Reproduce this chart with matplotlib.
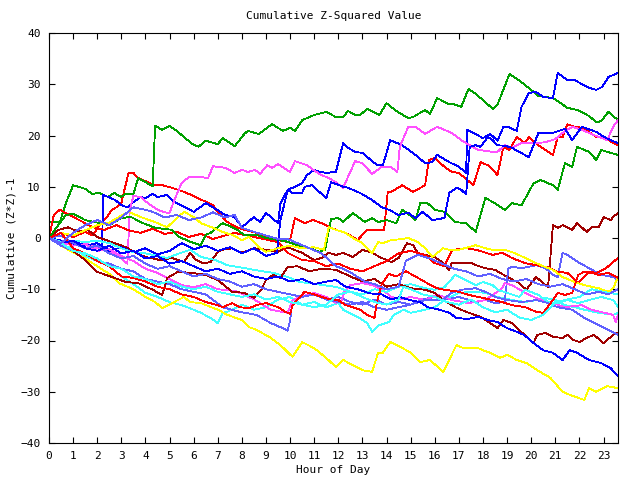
import matplotlib
matplotlib.use('Agg')
import matplotlib.pyplot as plt

plt.rcParams['font.family'] = 'DejaVu Sans Mono'

# (hour, cumulative (z*z)-1) pairs, one list per trace
green_a = [(0, 3.1), (0.45, 3.1), (0.7, 6.8), (1.0, 10.3), (1.5, 9.6), (1.8, 8.6), (2.1, 8.8), (2.45, 8.0),
           (2.7, 8.8), (3.0, 8.0), (3.15, 8.6), (3.5, 8.6), (3.7, 11.7), (4.3, 10.1), (4.4, 21.9), (4.7, 21.1),
           (5.0, 21.9), (5.35, 20.7), (5.9, 18.5), (6.2, 17.8), (6.5, 19.0), (7.0, 18.3), (7.2, 19.5), (7.7, 17.9),
           (8.1, 20.3), (8.25, 20.9), (8.7, 20.3), (9.25, 22.2), (9.7, 20.9), (10.0, 21.5), (10.2, 20.9),
           (10.5, 23.0), (11.0, 24.0), (11.5, 24.6), (11.9, 23.6), (12.2, 23.6), (12.4, 24.8), (12.7, 24.0),
           (12.9, 24.0), (13.2, 25.2), (13.7, 24.0), (14.0, 26.3), (14.4, 24.8), (14.9, 23.4), (15.1, 23.6),
           (15.6, 25.0), (15.8, 24.2), (16.1, 27.3), (16.6, 26.1), (16.8, 26.1), (17.1, 25.6), (17.4, 29.1),
           (17.7, 28.1), (18.1, 26.5), (18.4, 25.2), (18.6, 26.0), (19.1, 32.0), (19.6, 30.4), (20.0, 28.9),
           (20.3, 27.7), (20.9, 27.3), (21.1, 26.7), (21.5, 25.4), (21.9, 25.0), (22.4, 23.8), (22.7, 22.6),
           (22.9, 22.8), (23.2, 24.6), (23.6, 23.0)]
green_b = [(0, 0), (0.3, 2.0), (0.7, 4.5), (1.0, 4.7), (1.5, 3.5), (2.0, 3.0), (2.5, 2.5), (3.0, 3.9),
           (3.4, 4.1), (3.9, 2.9), (4.4, 2.0), (5.1, 1.6), (5.4, 0.2), (5.9, -0.8), (6.3, -1.4), (6.5, 0.6),
           (6.7, 1.0), (7.2, 2.9), (7.6, 2.1), (7.8, 1.6), (8.1, 0.6), (8.6, 0.6), (9.0, 0.0), (9.5, -0.4),
           (9.8, -0.6), (10.3, -1.4), (10.7, -1.8), (11.0, -2.3), (11.2, -2.7), (11.45, -2.3), (11.7, 3.7),
           (12.0, 3.9), (12.2, 3.1), (12.6, 4.9), (13.1, 3.1), (13.4, 3.9), (13.65, 3.1), (14.0, 3.5),
           (14.4, 2.9), (14.65, 5.5), (14.85, 4.9), (15.2, 3.5), (15.4, 6.8), (15.7, 6.8), (16.0, 5.5),
           (16.4, 5.1), (16.85, 3.1), (17.3, 2.9), (17.7, 1.2), (18.1, 7.8), (18.5, 6.8), (18.9, 5.5),
           (19.2, 6.8), (19.6, 6.4), (20.1, 10.7), (20.4, 11.3), (20.9, 10.3), (21.1, 9.4), (21.4, 14.6),
           (21.7, 13.9), (21.9, 17.8), (22.4, 16.8), (22.7, 15.2), (22.9, 17.2), (23.15, 16.8), (23.6, 16.2)]

magenta_a = [(0, 0), (0.5, -0.8), (1.0, -1.5), (1.5, -1.0), (2.0, -2.0), (2.5, -2.5), (3.0, -4.0), (3.25, -5.0),
             (3.35, 5.5), (3.5, 8.2), (3.8, 8.0), (4.1, 6.8), (4.5, 5.5), (4.9, 4.9), (5.0, 4.9), (5.2, 7.4),
             (5.5, 10.7), (5.8, 11.9), (6.3, 11.9), (6.6, 11.7), (6.8, 14.0), (7.3, 13.7), (7.7, 12.7),
             (8.0, 13.3), (8.25, 12.9), (8.55, 13.3), (8.75, 12.5), (9.05, 14.2), (9.25, 13.7), (9.5, 14.4),
             (10.0, 12.9), (10.2, 15.0), (10.7, 14.2), (11.2, 12.5), (11.6, 11.7), (11.9, 10.9), (12.2, 9.8),
             (12.4, 11.9), (12.7, 15.0), (13.0, 14.6), (13.4, 12.5), (13.8, 13.9), (14.15, 13.9), (14.45, 12.9),
             (14.55, 17.8), (14.9, 21.7), (15.2, 21.7), (15.6, 20.3), (16.1, 21.7), (16.7, 20.5), (17.1, 19.1),
             (17.55, 17.8), (17.8, 17.2), (18.4, 16.8), (18.6, 16.8), (18.9, 18.1), (19.2, 17.6), (19.6, 18.5),
             (20.2, 18.5), (20.6, 18.7), (21.0, 19.3), (21.3, 20.5), (21.7, 21.7), (22.1, 21.1), (22.7, 19.9),
             (23.15, 19.1), (23.4, 21.7), (23.6, 23.0)]
magenta_b = [(0, 0), (0.5, -0.8), (1.0, -1.5), (1.5, -1.2), (2.0, -2.5), (2.5, -2.2), (3.0, -3.5), (3.5, -4.5),
             (4.0, -6.0), (4.5, -6.8), (5.0, -8.0), (5.5, -9.2), (6.0, -9.6), (6.5, -9.0), (7.0, -10.0),
             (7.7, -10.3), (8.1, -11.1), (8.55, -12.1), (9.2, -14.0), (9.9, -14.6), (10.1, -12.1), (10.7, -11.1),
             (11.0, -10.7), (11.5, -11.5), (11.9, -12.7), (12.15, -12.1), (12.25, -10.5), (12.5, -9.2),
             (13.0, -8.8), (13.4, -9.2), (13.8, -10.0), (14.2, -11.5), (14.6, -12.0), (15.0, -11.5), (15.6, -12.1),
             (16.1, -11.1), (16.4, -11.5), (16.7, -12.1), (17.4, -12.7), (18.1, -12.1), (18.8, -9.8), (18.9, -8.8),
             (19.2, -9.2), (19.75, -10.7), (20.2, -11.7), (20.9, -12.7), (21.4, -13.5), (22.1, -13.1),
             (22.5, -14.0), (23.4, -15.0), (23.5, -16.4), (23.6, -15.0)]

blue_a = [(0, 0), (0.5, -0.5), (1.0, -1.2), (1.5, -1.0), (2.0, -2.0), (2.2, -1.8), (2.25, 8.4), (2.45, 8.0),
          (2.75, 7.4), (3.0, 6.4), (3.25, 6.0), (3.5, 7.0), (3.8, 8.0), (4.0, 7.8), (4.3, 8.6), (4.5, 8.0),
          (4.9, 8.4), (5.1, 7.4), (5.3, 6.8), (5.65, 6.0), (6.0, 5.1), (6.5, 6.8), (6.8, 6.0), (7.3, 4.5),
          (7.7, 4.1), (8.0, 2.1), (8.5, 4.1), (8.75, 3.1), (9.0, 4.9), (9.5, 2.9), (9.6, 6.8), (9.9, 9.4),
          (10.2, 10.0), (10.5, 10.7), (10.7, 12.3), (11.0, 13.3), (11.25, 12.9), (11.5, 12.7), (11.9, 12.9),
          (12.2, 18.5), (12.4, 17.6), (12.7, 16.8), (13.0, 16.6), (13.45, 14.8), (13.65, 14.2), (13.85, 14.2),
          (14.15, 19.1), (14.65, 18.1), (15.2, 16.2), (15.6, 14.6), (15.9, 14.8), (16.1, 16.2), (16.6, 14.8),
          (17.0, 13.9), (17.3, 12.7), (17.35, 21.1), (17.6, 20.5), (18.0, 19.5), (18.3, 20.3), (18.6, 19.0),
          (18.85, 21.7), (19.05, 21.7), (19.4, 20.9), (19.6, 25.6), (19.9, 28.3), (20.2, 28.5), (20.5, 27.5),
          (20.9, 27.3), (21.1, 32.2), (21.5, 30.8), (21.8, 30.8), (22.4, 29.3), (22.7, 28.9), (22.95, 29.5),
          (23.2, 31.4), (23.6, 32.2)]
blue_b = [(0, 0), (0.5, -1.0), (1.0, -0.5), (1.5, -1.5), (2.0, -1.0), (2.5, -2.5), (3.0, -1.8), (3.5, -2.8),
          (4.0, -2.0), (4.5, -3.2), (5.0, -2.5), (5.5, -1.0), (6.0, -2.2), (6.5, -1.5), (7.0, -2.5), (7.5, -1.8),
          (8.0, -3.0), (8.5, -2.0), (9.0, -3.5), (9.45, -2.9), (9.6, 3.5), (9.9, 9.4), (10.1, 8.8), (10.5, 8.8),
          (10.6, 10.0), (10.9, 10.3), (11.5, 7.8), (11.7, 10.9), (12.2, 10.0), (12.4, 9.8), (12.9, 8.8),
          (13.4, 7.4), (13.8, 6.0), (14.1, 5.5), (14.5, 4.5), (14.9, 4.9), (15.2, 3.9), (15.5, 5.1), (15.9, 3.5),
          (16.4, 3.9), (16.6, 8.8), (16.9, 9.8), (17.1, 9.4), (17.3, 8.5), (17.45, 17.8), (17.7, 18.1),
          (17.9, 17.8), (18.2, 19.7), (18.4, 19.1), (18.6, 18.1), (18.9, 18.0), (19.2, 17.6), (19.5, 16.8),
          (19.9, 15.8), (20.3, 20.5), (20.9, 20.5), (21.4, 21.3), (21.7, 19.1), (22.1, 21.7), (22.7, 20.7),
          (23.1, 19.5), (23.6, 18.5)]
blue_c = [(0, 0), (0.5, -1.0), (1.0, -0.5), (1.5, -2.0), (2.0, -2.5), (2.5, -1.5), (3.0, -3.0), (3.5, -2.5),
          (4.0, -4.0), (4.5, -3.5), (5.0, -5.0), (5.5, -4.5), (6.0, -5.5), (6.5, -6.5), (7.0, -6.0), (7.5, -7.0),
          (8.0, -6.5), (8.5, -7.5), (9.0, -8.0), (9.5, -7.5), (10.0, -8.5), (10.5, -8.0), (11.0, -9.0),
          (11.5, -8.5), (11.9, -8.2), (12.3, -9.5), (12.8, -10.0), (13.3, -10.8), (13.8, -11.0), (14.2, -12.0),
          (14.55, -11.5), (14.95, -12.1), (15.4, -12.5), (15.7, -13.5), (16.2, -14.0), (16.6, -14.6),
          (16.9, -15.6), (17.35, -15.8), (17.8, -15.4), (18.2, -16.0), (18.6, -16.4), (19.0, -17.6),
          (19.4, -18.3), (19.7, -18.9), (20.1, -20.5), (20.5, -21.9), (20.9, -22.4), (21.3, -23.8),
          (21.6, -21.9), (21.9, -22.4), (22.4, -23.8), (22.9, -24.4), (23.3, -25.4), (23.6, -27.0)]

red_a = [(0, 0), (0.5, 1.0), (1.0, 0.2), (1.5, 1.2), (1.8, 0.5), (2.1, 2.5), (2.4, 4.1), (2.6, 5.5), (2.8, 6.0),
         (3.0, 6.8), (3.15, 9.8), (3.3, 12.7), (3.5, 12.7), (3.7, 11.7), (4.1, 10.9), (4.4, 10.3), (4.7, 10.3),
         (5.1, 9.8), (5.35, 9.4), (5.6, 9.0), (5.9, 8.4), (6.35, 7.4), (6.8, 6.4), (7.0, 5.1), (7.4, 3.1),
         (7.8, 2.1), (8.1, 1.6), (8.6, 1.0), (8.9, 0.6), (9.2, 0.2), (9.5, -0.4), (9.9, -0.8), (10.0, -0.4),
         (10.2, 3.9), (10.6, 2.9), (10.95, 3.5), (11.3, 2.9), (11.9, 1.6), (12.3, 1.0), (12.6, 0.2),
         (12.8, -0.4), (13.2, 1.6), (13.9, 1.6), (14.05, 9.0), (14.2, 9.0), (14.65, 10.3), (15.1, 9.0),
         (15.6, 10.3), (15.75, 15.2), (16.0, 15.6), (16.4, 13.9), (16.7, 12.9), (17.0, 12.7), (17.35, 11.3),
         (17.6, 10.3), (17.9, 14.8), (18.2, 14.2), (18.4, 13.3), (18.6, 12.3), (18.85, 17.8), (19.1, 17.2),
         (19.4, 19.7), (19.75, 18.5), (19.9, 19.7), (20.3, 18.1), (20.9, 16.2), (21.1, 19.7), (21.3, 19.7),
         (21.5, 22.2), (21.8, 21.7), (22.1, 21.5), (22.4, 20.7), (22.7, 19.7), (23.1, 19.5), (23.4, 18.5),
         (23.6, 18.1)]
red_b = [(0, 0), (0.2, 4.5), (0.45, 5.5), (1.0, 4.1), (1.5, 2.9), (1.8, 2.1), (2.3, 1.6), (2.8, 2.5), (3.3, 1.5),
         (3.8, 1.0), (4.3, 1.8), (4.8, 0.8), (5.3, 1.2), (5.8, 0.2), (6.3, 0.8), (6.8, -0.2), (7.3, 0.5),
         (7.7, 1.0), (8.1, 0.6), (8.5, 0.2), (9.1, -0.4), (9.5, -0.8), (9.9, -2.9), (10.5, -4.3), (11.0, -4.5),
         (11.5, -5.5), (12.0, -5.0), (12.5, -6.0), (13.0, -6.5), (13.5, -5.5), (14.0, -4.5), (14.5, -3.0),
         (15.0, -2.5), (15.6, -3.3), (16.0, -4.9), (16.4, -5.5), (16.7, -2.5), (17.0, -2.1), (17.3, -2.0),
         (17.7, -2.3), (18.0, -2.7), (18.4, -3.3), (18.8, -2.9), (19.2, -3.9), (19.75, -4.9), (20.2, -5.3),
         (20.7, -5.7), (21.1, -6.6), (21.5, -6.8), (21.95, -8.8), (22.4, -6.6), (22.7, -6.8), (23.1, -5.9),
         (23.6, -3.9)]
red_c = [(0, 0), (0.5, 1.0), (1.0, -2.0), (1.5, -3.0), (2.0, -4.5), (2.5, -5.5), (3.0, -7.5), (3.5, -7.8),
         (4.0, -8.5), (4.5, -9.5), (5.0, -10.0), (5.5, -11.0), (6.0, -11.5), (6.5, -12.5), (7.0, -13.1),
         (7.2, -13.5), (7.6, -12.7), (7.9, -13.5), (8.3, -13.7), (8.6, -13.1), (9.0, -12.7), (9.5, -13.5),
         (9.8, -14.4), (10.0, -14.8), (10.1, -13.1), (10.3, -12.1), (10.6, -10.5), (11.0, -11.0), (11.5, -11.8),
         (12.0, -12.1), (12.3, -13.1), (12.6, -13.5), (12.9, -14.0), (13.2, -15.0), (13.5, -15.6),
         (13.6, -12.5), (13.8, -9.0), (14.1, -7.0), (14.4, -7.5), (14.8, -6.5), (15.2, -7.5), (15.6, -8.6),
         (16.1, -9.8), (16.4, -10.1), (17.0, -10.5), (17.4, -11.1), (17.8, -11.5), (18.4, -12.1), (18.8, -12.5),
         (19.2, -13.1), (19.75, -13.5), (20.2, -14.4), (20.5, -14.6), (20.6, -14.0), (20.9, -12.1),
         (21.1, -10.7), (21.4, -11.1), (21.7, -10.7), (21.95, -7.2), (22.2, -6.6), (22.5, -6.8), (22.8, -7.2),
         (23.2, -6.8), (23.6, -7.8)]

slate_a = [(0, 0), (0.5, -1.5), (1.0, -2.5), (1.5, -3.0), (2.0, -4.5), (2.5, -5.0), (3.0, -6.0), (3.5, -6.5),
           (4.0, -8.0), (4.5, -8.5), (5.0, -9.0), (5.5, -10.0), (6.0, -10.5), (6.5, -11.0), (7.2, -13.5),
           (7.9, -14.4), (8.6, -15.0), (9.2, -16.6), (9.6, -17.4), (9.9, -18.1), (10.0, -16.0), (10.1, -12.1),
           (10.5, -11.5), (11.0, -11.0), (11.5, -12.0), (12.0, -11.5), (12.5, -12.5), (13.0, -13.0),
           (13.5, -12.0), (14.0, -13.0), (14.5, -12.5), (15.0, -13.0), (15.5, -12.0), (16.0, -11.5),
           (16.5, -12.0), (17.0, -11.5), (17.7, -12.5), (18.1, -12.1), (18.5, -12.7), (18.9, -12.5),
           (19.05, -6.0), (19.2, -5.6), (19.6, -5.9), (20.2, -5.3), (20.6, -5.9), (20.9, -7.2), (21.1, -7.6),
           (21.3, -2.9), (21.5, -3.3), (21.95, -4.7), (22.4, -5.9), (22.9, -7.2), (23.4, -7.6), (23.6, -8.2)]
slate_b = [(0, 0), (0.5, 0.5), (1.0, -1.0), (1.5, -2.0), (2.0, -1.5), (2.5, -3.0), (3.0, -4.0), (3.5, -3.5),
           (4.0, -5.0), (4.5, -6.0), (5.0, -5.5), (5.5, -6.5), (6.0, -7.5), (6.5, -7.0), (7.0, -8.0), (7.5, -8.5),
           (8.0, -9.5), (8.5, -9.0), (9.0, -10.0), (9.5, -10.5), (10.0, -11.0), (10.5, -11.5), (11.0, -11.0),
           (11.5, -12.0), (12.0, -12.5), (12.5, -13.0), (13.0, -12.5), (13.5, -13.5), (14.0, -14.0),
           (14.5, -13.5), (15.0, -13.0), (15.6, -12.1), (16.3, -12.1), (16.7, -10.7), (17.1, -10.1),
           (17.7, -9.8), (18.2, -10.7), (18.5, -11.5), (19.0, -12.1), (19.6, -12.5), (20.2, -12.1),
           (20.7, -12.7), (21.1, -13.5), (21.7, -14.0), (22.2, -15.6), (22.8, -17.0), (23.2, -17.9),
           (23.6, -18.9)]
slate_c = [(0, 0), (0.5, -1.0), (1.0, 1.0), (1.5, 2.5), (2.0, 3.5), (2.5, 2.5), (3.0, 4.0), (3.5, 6.0),
           (4.0, 5.5), (4.3, 5.1), (4.8, 4.0), (5.3, 4.5), (5.8, 3.5), (6.3, 4.0), (6.8, 5.0), (7.3, 4.0),
           (7.7, 4.5), (8.0, 2.0), (8.5, 1.2), (9.0, 0.5), (9.5, -0.2), (9.9, -0.2), (10.3, -1.0), (10.8, -2.0),
           (11.3, -3.0), (11.9, -5.5), (12.2, -6.0), (12.6, -7.0), (13.1, -8.5), (13.5, -9.0), (14.0, -10.0),
           (14.5, -9.5), (14.8, -4.5), (15.3, -3.3), (15.8, -4.0), (16.3, -5.0), (16.8, -6.0), (17.3, -6.5),
           (17.8, -7.5), (18.3, -7.0), (18.8, -8.0), (19.3, -8.5), (19.8, -8.0), (20.3, -9.0), (20.8, -9.5),
           (21.3, -9.0), (21.8, -10.0), (22.3, -11.0), (22.8, -10.5), (23.2, -11.0), (23.6, -10.0)]

cyan_a = [(0, 0), (0.5, -1.5), (1.0, -2.0), (1.5, -3.5), (2.0, -4.5), (2.5, -5.5), (3.0, -7.5), (3.5, -9.0),
          (4.0, -10.7), (4.5, -11.5), (5.0, -12.5), (5.5, -13.1), (5.85, -13.7), (6.3, -14.6), (6.7, -15.6),
          (7.0, -16.6), (7.2, -14.6), (7.4, -14.4), (8.0, -13.0), (8.5, -14.0), (9.0, -13.5), (9.5, -12.0),
          (10.0, -11.5), (10.5, -13.0), (11.0, -12.5), (11.5, -13.5), (12.0, -12.7), (12.2, -14.0),
          (12.8, -15.4), (13.2, -16.6), (13.4, -18.3), (13.7, -17.0), (14.1, -16.4), (14.3, -15.0),
          (14.7, -14.0), (15.0, -14.6), (15.6, -14.0), (16.0, -13.5), (16.4, -12.1), (17.0, -10.7),
          (17.55, -10.5), (18.1, -10.7), (18.6, -11.5), (19.2, -12.1), (19.75, -12.5), (20.2, -12.1),
          (20.6, -11.7), (21.0, -12.1), (21.4, -13.1), (21.8, -13.5), (22.2, -14.0), (22.8, -14.6),
          (23.4, -15.0), (23.6, -14.6)]
cyan_b = [(0, 0), (0.5, -0.8), (1.0, -0.5), (1.5, -0.8), (2.0, -0.5), (2.5, -1.0), (3.0, -2.0), (3.5, -2.8),
          (4.0, -3.0), (4.5, -3.5), (4.9, -3.9), (5.4, -3.0), (5.85, -2.3), (6.3, -3.7), (6.9, -4.3),
          (7.4, -5.3), (7.9, -5.7), (8.5, -6.2), (9.0, -6.6), (9.3, -6.8), (9.9, -7.6), (10.4, -8.6),
          (10.8, -8.8), (11.4, -9.2), (11.95, -9.6), (12.5, -10.5), (13.0, -11.0), (13.5, -10.0), (14.0, -10.5),
          (14.5, -9.5), (15.0, -9.0), (15.6, -9.8), (16.0, -10.1), (16.4, -9.6), (16.85, -7.2), (17.1, -7.8),
          (17.7, -9.2), (18.0, -8.6), (18.4, -9.2), (18.6, -10.1), (19.0, -10.7), (19.5, -11.5), (19.75, -10.1),
          (20.3, -11.1), (20.7, -12.5), (21.1, -12.7), (21.5, -12.1), (21.95, -12.7), (22.4, -12.1),
          (22.9, -11.5), (23.4, -12.1), (23.6, -13.5)]
cyan_c = [(0, 0), (0.5, -1.0), (1.0, -2.5), (1.5, -3.0), (2.0, -4.0), (2.5, -5.5), (3.0, -6.0), (3.5, -7.5),
          (4.0, -8.0), (4.5, -9.0), (5.0, -8.5), (5.5, -9.5), (6.0, -10.0), (6.5, -9.5), (7.0, -10.5),
          (7.5, -11.0), (8.0, -11.5), (8.5, -11.0), (9.0, -12.0), (9.5, -11.5), (10.0, -12.5), (10.5, -13.0),
          (11.0, -13.5), (11.5, -13.0), (12.0, -11.0), (12.5, -10.5), (13.0, -11.5), (13.5, -12.5),
          (14.0, -13.0), (14.5, -12.0), (14.7, -9.5), (15.0, -10.0), (15.5, -11.0), (16.0, -11.5),
          (16.5, -12.5), (17.0, -13.0), (17.5, -12.0), (18.0, -13.5), (18.5, -14.5), (19.0, -14.0),
          (19.5, -15.5), (20.0, -16.0), (20.5, -15.0), (21.0, -12.5), (21.5, -12.0), (22.0, -11.5),
          (22.5, -10.0), (23.0, -10.5), (23.6, -11.0)]

yellow_a = [(0, 0), (0.5, -1.5), (1.0, -2.8), (1.5, -4.0), (2.0, -5.5), (2.5, -7.0), (2.9, -8.8), (3.5, -10.0),
            (4.0, -11.5), (4.4, -12.5), (4.7, -13.7), (5.1, -12.7), (5.6, -11.5), (5.85, -12.5), (6.3, -12.7),
            (7.0, -14.0), (7.4, -15.0), (8.0, -16.0), (8.3, -17.4), (8.6, -17.9), (9.2, -19.5), (9.6, -20.9),
            (10.1, -23.2), (10.5, -20.3), (11.0, -21.5), (11.5, -23.4), (11.9, -25.2), (12.2, -23.8),
            (12.6, -24.8), (13.0, -25.8), (13.4, -26.1), (13.65, -22.4), (13.85, -22.4), (14.15, -20.3),
            (14.6, -21.3), (15.0, -22.4), (15.4, -24.2), (15.8, -23.8), (16.35, -26.1), (16.9, -20.9),
            (17.2, -21.5), (17.8, -21.5), (18.0, -21.9), (18.3, -22.4), (18.7, -23.4), (19.0, -22.8),
            (19.4, -23.8), (19.8, -24.4), (20.25, -25.8), (20.8, -27.3), (21.3, -30.0), (21.6, -30.6),
            (22.2, -31.6), (22.4, -29.3), (22.7, -30.0), (23.15, -28.9), (23.6, -29.3)]
yellow_b = [(0, 0), (0.5, 1.0), (1.0, 0.5), (1.5, 1.5), (2.0, 2.5), (2.5, 3.0), (2.9, 4.1), (3.3, 5.1),
            (3.8, 4.1), (4.4, 3.1), (4.9, 2.1), (5.35, 4.1), (5.6, 5.1), (6.0, 4.1), (6.3, 2.9), (6.8, 2.0),
            (7.2, 1.2), (7.6, 0.6), (8.0, -0.4), (8.3, 0.2), (8.7, -1.8), (9.0, -2.7), (9.5, -2.0), (10.0, -1.5),
            (10.5, -2.0), (11.0, -1.8), (11.4, -2.3), (11.6, 2.1), (11.9, 1.6), (12.3, 1.0), (12.6, 0.0),
            (13.0, -1.0), (13.4, -2.9), (13.65, -0.8), (13.85, -1.0), (14.2, -0.4), (14.65, -0.2), (14.9, 0.0),
            (15.3, -0.8), (15.6, -2.0), (15.9, -3.7), (16.35, -2.0), (16.6, -2.3), (17.0, -2.3), (17.4, -1.8),
            (17.7, -1.4), (18.1, -2.0), (18.4, -2.3), (18.9, -2.3), (19.3, -2.9), (19.75, -3.9), (20.2, -4.9),
            (20.6, -5.7), (20.9, -6.2), (21.3, -7.6), (21.8, -8.6), (22.2, -9.2), (22.8, -9.8), (23.2, -10.5),
            (23.4, -9.8), (23.6, -7.6)]

darkred_a = [(0, 0), (0.4, 1.6), (0.8, 2.1), (1.2, 1.2), (1.6, 1.6), (2.0, 0.2), (2.6, -0.8), (3.2, -1.8),
             (3.5, -2.7), (4.0, -3.7), (4.6, -4.3), (5.1, -3.9), (5.6, -4.7), (5.85, -2.9), (6.1, -4.3),
             (6.4, -4.9), (6.7, -4.7), (7.0, -2.7), (7.2, -2.3), (7.6, -2.0), (8.0, -2.9), (8.5, -2.0),
             (9.0, -2.3), (9.5, -2.7), (9.9, -1.8), (10.5, -2.9), (11.0, -4.3), (11.3, -3.9), (11.6, -2.9),
             (11.9, -3.3), (12.2, -2.9), (12.6, -3.7), (13.0, -2.3), (13.4, -2.9), (13.8, -3.9), (14.2, -4.7),
             (14.5, -3.9), (14.85, -1.0), (15.1, -1.4), (15.3, -2.9), (15.6, -3.3), (16.0, -3.7), (16.3, -4.7),
             (16.6, -6.2), (16.7, -4.9), (17.0, -4.9), (17.55, -4.9), (17.7, -5.3), (18.1, -5.9), (18.5, -6.2),
             (19.0, -7.6), (19.5, -8.8), (19.8, -10.1), (20.2, -7.6), (20.5, -8.8), (20.7, -9.6), (20.9, 2.5),
             (21.1, 2.0), (21.3, 2.5), (21.7, 1.6), (21.9, 2.9), (22.3, 1.2), (22.5, 2.1), (22.8, 2.1),
             (23.0, 4.1), (23.3, 3.5), (23.4, 4.1), (23.6, 4.9)]
darkred_b = [(0, 0), (0.5, -1.0), (1.0, -2.5), (1.5, -4.3), (2.0, -6.6), (2.6, -7.6), (3.2, -8.6), (3.7, -8.8),
             (4.3, -10.1), (4.7, -11.1), (4.9, -7.8), (5.35, -6.6), (5.9, -6.8), (6.5, -7.2), (7.0, -8.2),
             (7.6, -10.5), (8.1, -10.7), (8.5, -11.7), (8.8, -10.1), (9.0, -8.2), (9.3, -7.2), (9.6, -7.8),
             (9.9, -5.7), (10.3, -5.5), (10.8, -6.5), (11.3, -6.0), (11.9, -6.2), (12.5, -7.5), (13.0, -8.5),
             (13.5, -8.0), (14.0, -9.5), (14.5, -9.0), (15.0, -9.8), (15.6, -10.1), (16.0, -10.7), (16.35, -12.1),
             (16.85, -13.5), (17.3, -14.4), (17.9, -15.4), (18.3, -16.6), (18.6, -17.6), (18.85, -16.0),
             (19.2, -16.6), (19.5, -18.0), (19.75, -19.0), (20.1, -20.5), (20.25, -18.9), (20.6, -18.5),
             (20.9, -19.3), (21.3, -19.5), (21.5, -18.9), (21.75, -19.9), (22.0, -20.3), (22.3, -19.5),
             (22.6, -18.9), (23.0, -20.5), (23.4, -18.9), (23.6, -18.5)]

RED, GREEN, BLUE = '#ff0000', '#00a000', '#0000ff'
MAGENTA, CYAN, DARKRED = '#ff50ff', '#40ffff', '#a00000'
YELLOW, SLATE = '#ffff00', '#6060ff'

traces = [
    (red_a, RED), (green_a, GREEN), (blue_a, BLUE), (magenta_a, MAGENTA), (cyan_a, CYAN),
    (darkred_a, DARKRED), (yellow_a, YELLOW), (slate_a, SLATE),
    (red_b, RED), (green_b, GREEN), (blue_b, BLUE), (magenta_b, MAGENTA), (cyan_b, CYAN),
    (darkred_b, DARKRED), (yellow_b, YELLOW), (slate_b, SLATE),
    (red_c, RED), (blue_c, BLUE), (cyan_c, CYAN), (slate_c, SLATE),
]

fig = plt.figure(figsize=(6.4, 4.8), dpi=100)
ax = fig.add_axes([49 / 640, 37 / 480, 569 / 640, 410 / 480])

# gnuplot-style hard 1px lines
for pts, col in traces:
    hrs, vals = zip(*pts)
    ax.plot(hrs, vals, color=col, lw=0.6, antialiased=False)

ax.set_xlim(0, 23.6)
ax.set_ylim(-40, 40)
ax.set_xticks(range(24))
ax.set_yticks(range(-40, 41, 10))
ax.tick_params(direction='in', top=True, right=True, length=4, width=0.8,
               labelsize=8, pad=6)
for s in ax.spines.values():
    s.set_linewidth(0.8)

fig.text(333.5 / 640, 1 - 16 / 480, 'Cumulative Z-Squared Value', ha='center', va='center', fontsize=8)
fig.text(333.5 / 640, 1 - 470 / 480, 'Hour of Day', ha='center', va='center', fontsize=8)
fig.text(12 / 640, 1 - 238 / 480, 'Cumulative (Z*Z)-1', ha='center', va='center',
         rotation=90, fontsize=8)

fig.savefig('out.png', dpi=100)
